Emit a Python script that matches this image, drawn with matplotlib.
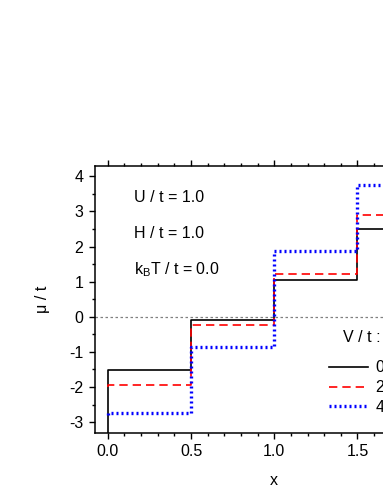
import numpy as np
import matplotlib.pyplot as plt
from matplotlib.ticker import MultipleLocator

plt.rcParams['font.family'] = ['Liberation Sans', 'DejaVu Sans']
plt.rcParams['axes.unicode_minus'] = False

# step edges (first entry repeats 0 so each curve rises at x=0)
x_edges = [0.0, 0.0, 0.5, 1.0, 1.5, 2.0]

# mu / t on each plateau, leading value is where the curve starts at x=0
mu_v0 = [-3.6, -1.51, -0.08, 1.05, 2.50, 2.50]
mu_v2 = [-2.00, -1.93, -0.23, 1.22, 2.91, 2.91]
mu_v4 = [-2.80, -2.75, -0.87, 1.86, 3.74, 3.74]

v_labels = ["0.0", "2.0", "4.0"]
params = ["U / t = 1.0", "H / t = 1.0", r"k$_\mathregular{B}$T / t = 0.0"]

W, H = 383, 495
fig = plt.figure(figsize=(W / 100, H / 100), dpi=100)
ax = fig.add_axes([94.5 / W, 1 - 432.7 / H, (454 - 94.5) / W, (432.7 - 165.7) / H])

ax.axhline(0, color="gray", linestyle=(0, (2, 2)), linewidth=0.9, zorder=1)

ax.step(x_edges, mu_v0, where="post", color="black", linewidth=1.2, label=v_labels[0])
ax.step(x_edges, mu_v2, where="post", color="red", linewidth=1.2,
        linestyle=(0, (5, 3)), label=v_labels[1])
ax.step(x_edges, mu_v4, where="post", color="blue", linewidth=2.4,
        linestyle=(0, (0.6, 0.9)), label=v_labels[2])

ax.set_xlim(-0.08, 2.08)
ax.set_ylim(-3.3, 4.3)
ax.xaxis.set_major_locator(MultipleLocator(0.5))
ax.xaxis.set_minor_locator(MultipleLocator(0.1))
ax.yaxis.set_major_locator(MultipleLocator(1))
ax.yaxis.set_minor_locator(MultipleLocator(0.5))
ax.xaxis.set_major_formatter(plt.FormatStrFormatter("%.1f"))
ax.tick_params(which="both", direction="out", top=True, right=True, labelsize=11.5, width=1)
ax.tick_params(which="major", length=4.5)
ax.tick_params(which="minor", length=2.5)
for s in ax.spines.values():
    s.set_linewidth(1.1)

ax.set_xlabel("x", fontsize=11.5, labelpad=10)
ax.set_ylabel("μ / t", fontsize=11.5, labelpad=14)

for i, txt in enumerate(params):
    ax.text(134 / W, 1 - (198 + 36 * i) / H, txt, transform=fig.transFigure,
            fontsize=11.5, va="center", ha="left")

fig.text(343 / W, 1 - 338 / H, "V / t :", fontsize=11.5, va="center", ha="left")
ax.legend(frameon=False, fontsize=11.5, loc="upper left",
          bbox_to_anchor=(315 / W, 1 - 346 / H), bbox_transform=fig.transFigure,
          handlelength=2.4, handletextpad=0.5, labelspacing=0.3)

fig.savefig("out.png", dpi=100)
